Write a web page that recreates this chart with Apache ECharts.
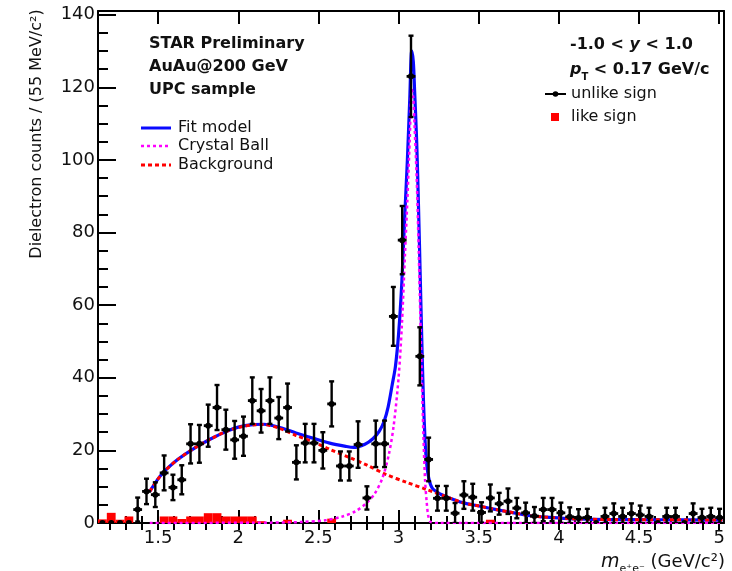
<!DOCTYPE html>
<html>
<head>
<meta charset="utf-8">
<script src="https://cdn.jsdelivr.net/npm/echarts@6/dist/echarts.min.js"></script>
<style>
html, body { margin: 0; padding: 0; background: #fff; }
#chart { width: 732px; height: 571px; }
</style>
</head>
<body>
<div id="chart"></div>
<script>
// Dielectron invariant-mass histogram (55 MeV bins)
const binLow = 1.125;
const binWidth = 0.055;

// unlike-sign pairs: counts and statistical errors per bin
const unlikeCounts = [
  0, 0, 0, 0, 3.7, 8.7, 7.8, 13.8, 9.8, 11.9,
  21.8, 21.8, 26.8, 31.8, 25.7, 22.9, 23.9, 33.7, 30.9, 33.7,
  28.9, 31.8, 16.7, 22.0, 22.0, 20.0, 32.8, 15.7, 15.7, 21.6,
  6.9, 21.8, 21.8, 56.9, 77.9, 123.0, 45.9, 17.5, 6.8, 6.8,
  2.7, 7.7, 7.1, 2.9, 6.9, 5.3, 6.0, 4.1, 2.8, 1.9,
  3.7, 3.7, 2.8, 1.7, 1.4, 1.5, 0, 1.8, 2.6, 1.8,
  2.6, 2.2, 1.8, 0, 1.8, 1.8, 0, 2.6, 1.5, 1.8,
  1.5
];
const unlikeErrors = [
  0, 0, 0, 0, 3.3, 3.5, 3.4, 4.8, 3.5, 4.0,
  5.4, 5.2, 5.8, 6.2, 5.5, 5.2, 5.4, 6.4, 6.0, 6.4,
  5.8, 6.6, 4.7, 5.3, 5.3, 5.0, 6.2, 4.0, 4.0, 6.4,
  3.2, 6.4, 6.4, 8.1, 9.4, 11.2, 8.0, 6.0, 3.4, 3.4,
  2.8, 3.8, 3.7, 2.8, 3.7, 3.0, 3.5, 2.8, 2.8, 2.5,
  3.2, 3.2, 2.8, 2.6, 2.4, 2.4, 0, 2.4, 2.8, 2.4,
  2.8, 2.6, 2.4, 0, 2.4, 2.4, 0, 2.8, 2.4, 2.4,
  2.4
];

// like-sign pairs (filled histogram)
const likeCounts = [
  1.0, 2.8, 0.9, 1.8, 0, 0, 0, 1.8, 1.8, 1.1,
  1.8, 1.8, 2.7, 2.7, 1.8, 1.8, 1.8, 1.8, 0.5, 0,
  0, 0.9, 0, 0, 0, 0, 1.2, 0, 0, 0,
  0, 0, 0, 0, 0, 0, 0, 0, 0, 0,
  0, 0, 0, 0, 0.9, 0, 0, 0, 0, 0,
  0, 0, 0, 0, 0, 0, 0, 0, 0, 0,
  0, 0, 0, 0, 0, 0, 0, 0, 0, 0,
  0
];

// fit model (signal + background)
const fitX = [1.448, 1.52, 1.62, 1.73, 1.83, 1.92, 2.00, 2.09, 2.16, 2.26, 2.36, 2.47, 2.57, 2.67, 2.72, 2.79, 2.84, 2.88, 2.91, 2.935, 2.96, 2.98, 3.00, 3.02, 3.04, 3.055, 3.07, 3.082, 3.092, 3.10, 3.113, 3.125, 3.135, 3.145, 3.155, 3.165, 3.175, 3.19, 3.21, 3.25, 3.30, 3.40, 3.51, 3.61, 3.72, 3.82, 3.92, 4.03, 4.13, 4.30, 4.60, 5.02];
const fitY = [8.7, 13.3, 17.4, 20.7, 23.2, 25.1, 26.4, 27.1, 27.2, 26.3, 24.8, 23.3, 22.0, 21.1, 20.8, 21.7, 23.2, 25.3, 28.0, 32.0, 38.0, 43.0, 52.0, 66.0, 86.0, 100.0, 117.0, 130.0, 127.0, 119.0, 105.0, 86.0, 68.0, 50.0, 34.0, 23.0, 16.5, 12.0, 9.6, 8.2, 7.2, 5.6, 4.6, 3.7, 2.8, 2.0, 1.6, 1.3, 1.1, 0.95, 0.9, 0.8];

// Crystal Ball signal component
const cbX = [1.448, 2.20, 2.40, 2.55, 2.65, 2.73, 2.80, 2.85, 2.90, 2.94, 2.97, 3.00, 3.02, 3.04, 3.055, 3.07, 3.082, 3.092, 3.10, 3.113, 3.125, 3.135, 3.145, 3.155, 3.165, 3.175, 3.185, 3.20, 3.25, 5.02];
const cbY = [0.0, 0.1, 0.3, 0.8, 1.8, 3.2, 5.5, 8.0, 12.5, 19.0, 27.0, 40.0, 54.0, 74.0, 89.0, 106.0, 119.5, 117.0, 109.0, 95.0, 76.0, 58.0, 40.0, 24.0, 12.0, 6.0, 2.0, 0.3, 0.0, 0.0];

// background component
const bgX = [1.448, 1.52, 1.62, 1.73, 1.83, 1.92, 2.00, 2.09, 2.16, 2.26, 2.36, 2.47, 2.57, 2.70, 2.80, 2.92, 3.05, 3.17, 3.30, 3.40, 3.51, 3.61, 3.72, 3.82, 3.92, 4.03, 4.13, 4.30, 4.60, 5.02];
const bgY = [8.7, 13.3, 17.4, 20.7, 23.2, 25.1, 26.3, 27.0, 27.1, 26.0, 24.1, 22.3, 20.3, 17.9, 16.0, 13.4, 11.2, 9.3, 7.2, 5.6, 4.6, 3.7, 2.8, 2.0, 1.6, 1.3, 1.1, 0.95, 0.9, 0.8];

// axis ticks
const xMajorTicks = [1.5, 2, 2.5, 3, 3.5, 4, 4.5, 5];
const yMajorTicks = [0, 20, 40, 60, 80, 100, 120, 140];

const xMin = 1.125, xMax = 5.03, yMin = 0, yMax = 141;

const xMinorTicks = [];
for (let t = 12; t <= 50; t++) xMinorTicks.push(t / 10);
const yMinorTicks = [];
for (let t = 5; t <= 140; t += 5) if (t % 20) yMinorTicks.push(t);

const FONT = '"DejaVu Sans", sans-serif';
const binCenters = unlikeCounts.map((_, i) => +(binLow + binWidth * (i + 0.5)).toFixed(4));
const pointData = binCenters.map((x, i) => [x, unlikeCounts[i], unlikeErrors[i]]);
const likeData = binCenters.map((x, i) => [x, likeCounts[i]]);
const pairs = (xs, ys) => xs.map((x, i) => [x, ys[i]]);

function renderPoint(params, api) {
  const x = api.value(0), y = api.value(1), e = api.value(2);
  const c = api.coord([x, y]);
  const style = { stroke: '#000', lineWidth: 2.4 };
  const children = [];
  if (e > 0) {
    const top = api.coord([x, y + e]);
    const bot = api.coord([x, Math.max(y - e, 0)]);
    const lo = api.coord([x - binWidth / 2, y]);
    const hi = api.coord([x + binWidth / 2, y]);
    children.push(
      { type: 'line', shape: { x1: c[0], y1: top[1], x2: c[0], y2: bot[1] }, style },
      { type: 'line', shape: { x1: c[0] - 2.5, y1: top[1], x2: c[0] + 2.5, y2: top[1] }, style },
      { type: 'line', shape: { x1: c[0] - 2.5, y1: bot[1], x2: c[0] + 2.5, y2: bot[1] }, style },
      { type: 'line', shape: { x1: lo[0], y1: c[1], x2: hi[0], y2: c[1] }, style: { stroke: '#000', lineWidth: 2.8 } }
    );
  }
  children.push({ type: 'circle', shape: { cx: c[0], cy: c[1], r: 3 }, style: { fill: '#000' } });
  return { type: 'group', children };
}

function renderBin(params, api) {
  const x = api.value(0), v = api.value(1);
  if (!(v > 0)) return null;
  const p1 = api.coord([x - binWidth / 2, v]);
  const p2 = api.coord([x + binWidth / 2, 0]);
  return { type: 'rect', shape: { x: p1[0], y: p1[1], width: p2[0] - p1[0], height: p2[1] - p1[1] }, style: { fill: '#ff0000' } };
}

const axisBase = { type: 'value', min: xMin, max: xMax, splitLine: { show: false } };
const yBase = { type: 'value', min: yMin, max: yMax, splitLine: { show: false } };
const tickStyle = { color: '#000', width: 2 };

const option = {
  animation: false,
  backgroundColor: '#fff',
  grid: { left: 98, right: 8, top: 11, bottom: 48, containLabel: false },
  xAxis: [
    Object.assign({}, axisBase, {
      position: 'bottom',
      axisLine: { show: true, onZero: false, lineStyle: { color: '#000', width: 2 } },
      axisTick: { show: true, inside: true, length: 13, lineStyle: tickStyle, customValues: xMajorTicks },
      axisLabel: { show: true, customValues: xMajorTicks, fontSize: 18, fontFamily: FONT, color: '#111', margin: 6 }
    }),
    Object.assign({}, axisBase, {
      position: 'bottom',
      axisLine: { show: false },
      axisTick: { show: true, inside: true, length: 7, lineStyle: tickStyle, customValues: xMinorTicks },
      axisLabel: { show: false }
    }),
    Object.assign({}, axisBase, {
      position: 'top',
      axisLine: { show: true, onZero: false, lineStyle: { color: '#000', width: 2 } },
      axisTick: { show: true, inside: true, length: 13, lineStyle: tickStyle, customValues: xMajorTicks },
      axisLabel: { show: false }
    }),
    Object.assign({}, axisBase, {
      position: 'top',
      axisLine: { show: false },
      axisTick: { show: true, inside: true, length: 7, lineStyle: tickStyle, customValues: xMinorTicks },
      axisLabel: { show: false }
    })
  ],
  yAxis: [
    Object.assign({}, yBase, {
      position: 'left',
      axisLine: { show: true, onZero: false, lineStyle: { color: '#000', width: 2 } },
      axisTick: { show: true, inside: true, length: 18, lineStyle: tickStyle, customValues: yMajorTicks },
      axisLabel: { show: true, customValues: yMajorTicks, fontSize: 18, fontFamily: FONT, color: '#111', margin: 3 }
    }),
    Object.assign({}, yBase, {
      position: 'left',
      axisLine: { show: false },
      axisTick: { show: true, inside: true, length: 10, lineStyle: tickStyle, customValues: yMinorTicks },
      axisLabel: { show: false }
    }),
    Object.assign({}, yBase, {
      position: 'right',
      axisLine: { show: true, onZero: false, lineStyle: { color: '#000', width: 2 } },
      axisTick: { show: false },
      axisLabel: { show: false }
    })
  ],
  series: [
    {
      name: 'like sign', type: 'custom', renderItem: renderBin, data: likeData, z: 1, clip: true,
      encode: { x: 0, y: 1 }, xAxisIndex: 0, yAxisIndex: 0
    },
    {
      name: 'Fit model', type: 'line', data: pairs(fitX, fitY), showSymbol: false, smooth: 0.3,
      lineStyle: { color: '#0a0aff', width: 3.2 }, z: 2, xAxisIndex: 0, yAxisIndex: 0
    },
    {
      name: 'Background', type: 'line', data: pairs(bgX, bgY), showSymbol: false, smooth: 0.3,
      lineStyle: { color: '#ff0000', width: 3, type: [4, 3] }, z: 3, xAxisIndex: 0, yAxisIndex: 0
    },
    {
      name: 'Crystal Ball', type: 'line', data: pairs(cbX, cbY), showSymbol: false, smooth: 0.3,
      lineStyle: { color: '#ff00ff', width: 2.5, type: [3, 3] }, z: 4, xAxisIndex: 0, yAxisIndex: 0
    },
    {
      name: 'unlike sign', type: 'custom', renderItem: renderPoint, data: pointData, z: 5, clip: true,
      encode: { x: 0, y: 1 }, xAxisIndex: 0, yAxisIndex: 0
    }
  ],
  graphic: [
    // experiment labels
    { type: 'text', x: 149, y: 44, style: { text: 'STAR Preliminary', font: 'bold 16px ' + FONT, fill: '#111', verticalAlign: 'middle' } },
    { type: 'text', x: 149, y: 67, style: { text: 'AuAu@200 GeV', font: 'bold 16px ' + FONT, fill: '#111', verticalAlign: 'middle' } },
    { type: 'text', x: 149, y: 90, style: { text: 'UPC sample', font: 'bold 16px ' + FONT, fill: '#111', verticalAlign: 'middle' } },
    // curve legend
    { type: 'line', shape: { x1: 141, y1: 128, x2: 171, y2: 128 }, style: { stroke: '#0a0aff', lineWidth: 3 } },
    { type: 'line', shape: { x1: 141, y1: 146, x2: 171, y2: 146 }, style: { stroke: '#ff00ff', lineWidth: 2.5, lineDash: [3, 3] } },
    { type: 'line', shape: { x1: 141, y1: 165, x2: 171, y2: 165 }, style: { stroke: '#ff0000', lineWidth: 3, lineDash: [4, 3] } },
    { type: 'text', x: 178, y: 128, style: { text: 'Fit model', font: '16px ' + FONT, fill: '#111', verticalAlign: 'middle' } },
    { type: 'text', x: 178, y: 146, style: { text: 'Crystal Ball', font: '16px ' + FONT, fill: '#111', verticalAlign: 'middle' } },
    { type: 'text', x: 178, y: 165, style: { text: 'Background', font: '16px ' + FONT, fill: '#111', verticalAlign: 'middle' } },
    // kinematic cuts
    { type: 'text', x: 570, y: 45, style: {
      text: '{b|-1.0 < }{bi|y}{b| < 1.0}', verticalAlign: 'middle',
      rich: {
        b: { fontFamily: FONT, fontWeight: 'bold', fontSize: 16, fill: '#111' },
        bi: { fontFamily: FONT, fontWeight: 'bold', fontStyle: 'italic', fontSize: 16, fill: '#111' }
      } } },
    { type: 'text', x: 570, y: 70, style: {
      text: '{bi|p}{sub|T}{b| < 0.17 GeV/c}', verticalAlign: 'middle',
      rich: {
        b: { fontFamily: FONT, fontWeight: 'bold', fontSize: 16, fill: '#111' },
        bi: { fontFamily: FONT, fontWeight: 'bold', fontStyle: 'italic', fontSize: 16, fill: '#111' },
        sub: { fontFamily: FONT, fontWeight: 'bold', fontSize: 10, fill: '#111', padding: [14, 0, 0, 0] }
      } } },
    // marker legend
    { type: 'line', shape: { x1: 545, y1: 94, x2: 566, y2: 94 }, style: { stroke: '#000', lineWidth: 2 } },
    { type: 'circle', shape: { cx: 555.5, cy: 94, r: 2.8 }, style: { fill: '#000' } },
    { type: 'rect', shape: { x: 551, y: 113, width: 8, height: 8 }, style: { fill: '#ff0000' } },
    { type: 'text', x: 571, y: 94, style: { text: 'unlike sign', font: '16px ' + FONT, fill: '#111', verticalAlign: 'middle' } },
    { type: 'text', x: 571, y: 117, style: { text: 'like sign', font: '16px ' + FONT, fill: '#111', verticalAlign: 'middle' } },
    // axis titles
    { type: 'text', x: 37, y: 134, rotation: Math.PI / 2, style: {
      text: 'Dielectron counts / (55 MeV/c²)', font: '16px ' + FONT, fill: '#111', align: 'center', verticalAlign: 'middle' } },
    { type: 'text', x: 725, y: 562, style: {
      text: '{mi|m}{sub|e⁺e⁻}{n| (GeV/c²)}', align: 'right', verticalAlign: 'middle',
      rich: {
        mi: { fontFamily: FONT, fontStyle: 'italic', fontSize: 19, fill: '#111' },
        sub: { fontFamily: FONT, fontSize: 11, fill: '#111', padding: [14, 0, 0, 0] },
        n: { fontFamily: FONT, fontSize: 18, fill: '#111' }
      } } }
  ]
};

const chart = echarts.init(document.getElementById('chart'), null, { renderer: 'canvas' });
chart.setOption(option);
</script>
</body>
</html>
